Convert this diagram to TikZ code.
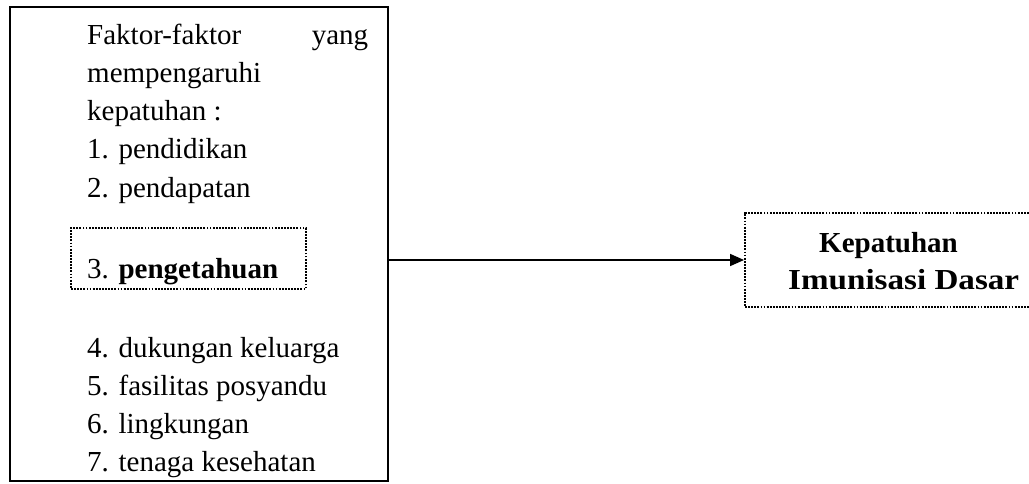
\documentclass[tikz,border=0pt]{standalone}
\usepackage{fontspec}
\setmainfont{Liberation Serif}
\usetikzlibrary{arrows.meta}
\tikzset{
  txt/.style={anchor=base west, inner sep=0pt, font=\fontsize{29}{38}\selectfont},
  btxt/.style={anchor=base west, inner sep=0pt, font=\fontsize{29}{38}\selectfont\bfseries},
  solidbox/.style={draw, line width=1.7pt, rectangle, inner sep=0pt},
  dotbox/.style={draw, line width=1.9pt, rectangle, inner sep=0pt, dash pattern=on 1.8pt off 1.3pt},
  conn/.style={line width=1.6pt, -{Triangle[length=14pt,width=12pt]}}
}
\begin{document}
\begin{tikzpicture}[x=1pt,y=-1pt]
\useasboundingbox[fill=white] (0,0) rectangle (1029,484);
% left big box
\node[solidbox, minimum width=378pt, minimum height=474pt] (big) at (199,244) {};
\begin{scope}
\clip (0,0) rectangle (1029,477);
\node[txt] (l1) at (87,45) {\makebox[281pt][s]{Faktor-faktor\hfill yang}};
\node[txt] (l2) at (87,83) {mempengaruhi};
\node[txt] (l3) at (87,121) {kepatuhan :};
\node[txt] (l4) at (87,159) {1. pendidikan};
\node[txt] (l5) at (87,197) {2. pendapatan};
\node[txt] (l6) at (87,278) {3. \textbf{pengetahuan}};
\node[txt] (l7) at (87,357) {4. dukungan keluarga};
\node[txt] (l8) at (87,395) {5. fasilitas posyandu};
\node[txt] (l9) at (87,433) {6. lingkungan};
\node[txt] (l10) at (87,471) {7. tenaga kesehatan};
\end{scope}
\node[dotbox, minimum width=235pt, minimum height=61pt] (hl) at (188.5,258.5) {};
% right box (extends past the right edge)
\node[dotbox, minimum width=315pt, minimum height=94pt] (tgt) at (902.5,260) {};
\node[btxt] (r1) at (819,252) {Kepatuhan};
\node[btxt] (r2) at (788,290) {\resizebox{231pt}{\height}{Imunisasi Dasar}};
% connector
\draw[conn] (big.east |- tgt.west) -- (tgt.west);
\end{tikzpicture}
\end{document}
